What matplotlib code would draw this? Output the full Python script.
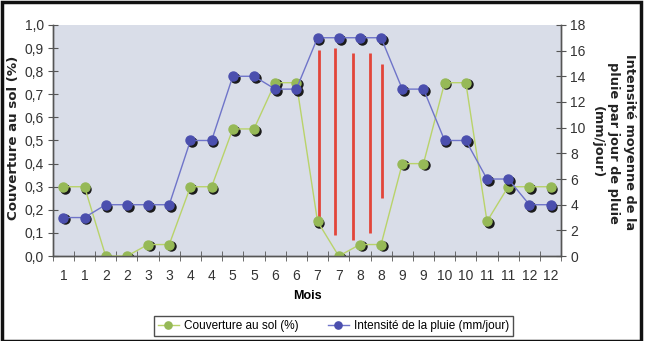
import numpy as np
import matplotlib
matplotlib.use("Agg")
import matplotlib.pyplot as plt
from matplotlib.transforms import offset_copy
from matplotlib.patches import Rectangle

# data
mois = ["1", "1", "2", "2", "3", "3", "4", "4", "5", "5", "6", "6",
        "7", "7", "8", "8", "9", "9", "10", "10", "11", "11", "12", "12"]
couverture = [0.30, 0.30, 0.0, 0.0, 0.05, 0.05, 0.30, 0.30, 0.55, 0.55, 0.75, 0.75,
              0.15, 0.0, 0.05, 0.05, 0.40, 0.40, 0.75, 0.75, 0.15, 0.30, 0.30, 0.30]
intensite = [3, 3, 4, 4, 4, 4, 9, 9, 14, 14, 13, 13,
             17, 17, 17, 17, 13, 13, 9, 9, 6, 6, 4, 4]
# red bars (position in category units, bottom, top on left axis)
rouge_x = [12.05, 12.83, 13.66, 14.48, 15.05]
rouge_bas = [0.15, 0.09, 0.07, 0.10, 0.25]
rouge_haut = [0.89, 0.90, 0.88, 0.88, 0.83]

narrow = ["Liberation Sans", "DejaVu Sans"]

fig = plt.figure(figsize=(6.51, 3.41), dpi=100)
ax = fig.add_axes([0.081, 0.249, 0.781, 0.678])
ax2 = ax.twinx()
ax.set_facecolor("#d9dde8")
ax2.patch.set_visible(False)

x = np.arange(len(mois))

# red vertical lines
ax.vlines(rouge_x, rouge_bas, rouge_haut, color="#e2453a", lw=2, zorder=2)

# green series (left axis)
sh1 = offset_copy(ax.transData, fig=fig, x=1.3, y=-1.3, units="points")
ax.plot(x, couverture, ls="none", marker="o", ms=6.5, color="#1a1a1a", transform=sh1, zorder=3)
ax.plot(x, couverture, color="#b9d36a", lw=1, marker="o", ms=6.5,
        mfc="#96b957", mec="#96b957", zorder=4, label="Couverture au sol (%)")

# blue series (right axis)
sh2 = offset_copy(ax2.transData, fig=fig, x=1.3, y=-1.3, units="points")
ax2.plot(x, intensite, ls="none", marker="o", ms=6.5, color="#1a1a1a", transform=sh2, zorder=3)
ax2.plot(x, intensite, color="#6f74c9", lw=1, marker="o", ms=6.5,
         mfc="#4b4fae", mec="#4b4fae", zorder=4, label="Intensité de la pluie (mm/jour)")

ax.set_xlim(-0.5, len(mois) - 0.5)
ax.set_ylim(0, 1.0)
ax2.set_ylim(0, 18)

ax.set_xticks(x)
ax.set_xticklabels(mois, family=narrow, fontsize=10, color="#333333")
ax.set_xticks(np.arange(-0.5, len(mois), 1), minor=True)
ax.tick_params(axis="x", which="major", length=0, pad=9)
ax.tick_params(axis="x", which="minor", direction="inout", length=7, color="#555555")

yt = np.arange(0, 1.01, 0.1)
ax.set_yticks(yt)
ax.set_yticklabels([f"{v:.1f}".replace(".", ",") for v in yt], family=narrow, fontsize=10,
                   color="#333333")
ax.tick_params(axis="y", direction="inout", length=7, color="#555555", pad=3)

ax2.set_yticks(np.arange(0, 19, 2))
ax2.set_yticklabels([str(v) for v in range(0, 19, 2)], family=narrow, fontsize=10,
                    color="#333333")
ax2.tick_params(axis="y", direction="inout", length=7, color="#555555", pad=3)

for a in (ax, ax2):
    a.spines["top"].set_visible(False)
    for s in ("left", "right", "bottom"):
        a.spines[s].set_color("#555555")
        a.spines[s].set_linewidth(1)

# axis titles
fig.text(0.021, 0.595, "Couverture au sol (%)", fontsize=9.6, fontweight="bold",
         rotation=90, ha="center", va="center", color="#222222")
fig.text(0.9425, 0.582, "Intensité moyenne de la\npluie par jour de pluie\n(mm/jour)",
         fontsize=9.3, fontweight="bold", rotation=-90, linespacing=1.28,
         ha="center", va="center", multialignment="center", color="#222222")
ax.set_xlabel("Mois", family=narrow, fontsize=9, fontweight="bold", labelpad=5)

h1, l1 = ax.get_legend_handles_labels()
h2, l2 = ax2.get_legend_handles_labels()
leg = fig.legend(h1 + h2, l1 + l2, loc="lower center", bbox_to_anchor=(0.512, -0.003), ncol=2,
                 frameon=True, fancybox=False, edgecolor="#222222",
                 prop={"family": narrow, "size": 8.5}, handlelength=1.8, columnspacing=2.5,
                 borderpad=0.35, handletextpad=0.4, markerscale=0.8)
leg.get_frame().set_linewidth(1)

# figure frame
fig.patches.append(Rectangle((0.003, 0.0), 0.982, 0.993, transform=fig.transFigure,
                             fill=False, edgecolor="#111111", lw=2.5))

fig.savefig("out.png", dpi=100)
